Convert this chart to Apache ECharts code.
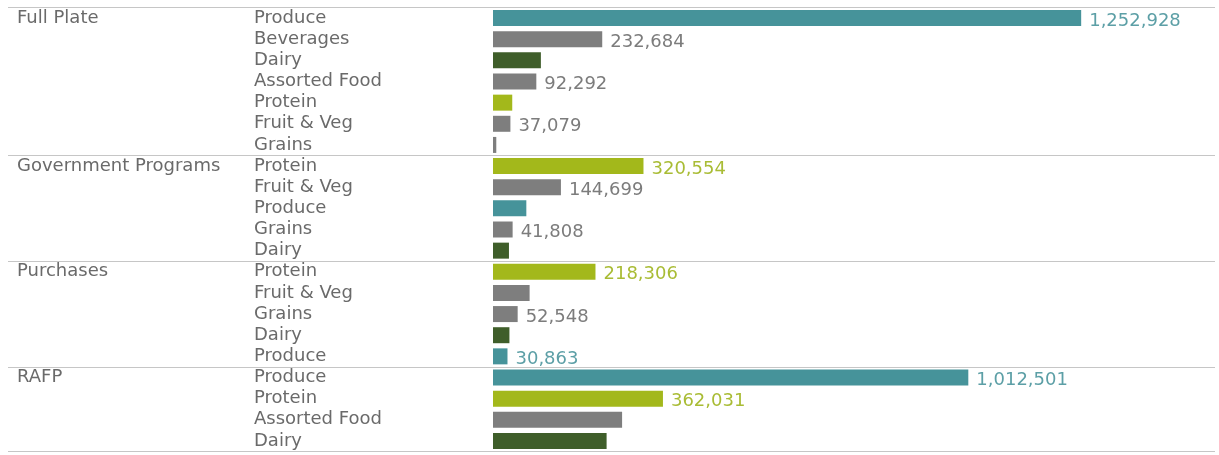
<!DOCTYPE html>
<html>
<head>
<meta charset="utf-8">
<title>Distribution by Source and Food Category</title>
<script src="https://cdn.jsdelivr.net/npm/echarts@6/dist/echarts.min.js"></script>
<style>
  html, body { margin: 0; padding: 0; background: #ffffff; }
  #chart { width: 1219px; height: 455px; }
</style>
</head>
<body>
<div id="chart"></div>
<script>
// Source groups, in display order
const groups = ['Full Plate', 'Government Programs', 'Purchases', 'RAFP'];

// Full Plate
const fullPlateCategories = ['Produce', 'Beverages', 'Dairy', 'Assorted Food', 'Protein', 'Fruit & Veg', 'Grains'];
const fullPlateValues = [1252928, 232684, 102000, 92292, 41000, 37079, 7000];
const fullPlateLabelled = [true, true, false, true, false, true, false];

// Government Programs
const govCategories = ['Protein', 'Fruit & Veg', 'Produce', 'Grains', 'Dairy'];
const govValues = [320554, 144699, 71000, 41808, 34000];
const govLabelled = [true, true, false, true, false];

// Purchases
const purchasesCategories = ['Protein', 'Fruit & Veg', 'Grains', 'Dairy', 'Produce'];
const purchasesValues = [218306, 78000, 52548, 35000, 30863];
const purchasesLabelled = [true, false, true, false, true];

// RAFP
const rafpCategories = ['Produce', 'Protein', 'Assorted Food', 'Dairy'];
const rafpValues = [1012501, 362031, 275000, 242000];
const rafpLabelled = [true, true, false, false];

// Colour per food category (bar fill, value label)
const categoryStyle = {
  'Produce':       { bar: '#46939a', text: '#5c9fa6' },
  'Protein':       { bar: '#a3b81b', text: '#a9bc35' },
  'Dairy':         { bar: '#3f5e2a', text: '#4d6a3a' },
  'Beverages':     { bar: '#7e7e7e', text: '#7c7c7c' },
  'Assorted Food': { bar: '#7e7e7e', text: '#7c7c7c' },
  'Fruit & Veg':   { bar: '#7e7e7e', text: '#7c7c7c' },
  'Grains':        { bar: '#7e7e7e', text: '#7c7c7c' }
};

const groupRows = [
  [fullPlateCategories, fullPlateValues, fullPlateLabelled],
  [govCategories, govValues, govLabelled],
  [purchasesCategories, purchasesValues, purchasesLabelled],
  [rafpCategories, rafpValues, rafpLabelled]
];

// Flatten into one row per (group, category)
const rowKeys = [];
const groupStartIndex = new Set();
const barData = [];
groups.forEach(function (g, gi) {
  const cats = groupRows[gi][0], vals = groupRows[gi][1], lab = groupRows[gi][2];
  groupStartIndex.add(rowKeys.length);
  cats.forEach(function (c, ci) {
    rowKeys.push(g + '|' + c);
    const st = categoryStyle[c];
    barData.push({
      value: vals[ci],
      itemStyle: { color: st.bar },
      label: { show: lab[ci], color: st.text }
    });
  });
});

const FONT = '"DejaVu Sans", Verdana, sans-serif';
const LINE = '#c6c6c6';
const isGroupStart = function (index) { return groupStartIndex.has(index); };

const chart = echarts.init(document.getElementById('chart'), null, { renderer: 'canvas' });

chart.setOption({
  animation: false,
  backgroundColor: '#ffffff',
  grid: {
    left: 493, right: 4, top: 7.5, bottom: 3.5,
    containLabel: false,
    outerBoundsMode: 'none'
  },
  xAxis: {
    type: 'value',
    min: 0,
    max: 1538000,
    show: false
  },
  yAxis: [
    {
      // food category labels, group separator lines
      type: 'category',
      position: 'left',
      inverse: true,
      data: rowKeys,
      axisLine: { show: false },
      axisTick: {
        show: true,
        length: 485,
        interval: isGroupStart,
        lineStyle: { color: LINE, width: 1 }
      },
      splitLine: {
        show: true,
        interval: isGroupStart,
        lineStyle: { color: LINE, width: 1 }
      },
      axisLabel: {
        interval: 0,
        align: 'left',
        margin: 239,
        color: '#6a6a6a',
        fontFamily: FONT,
        fontSize: 18,
        padding: [4, 0, 0, 0],
        formatter: function (v) { return v.split('|')[1]; }
      }
    },
    {
      // source group labels on the first row of each group
      type: 'category',
      position: 'left',
      offset: 0,
      inverse: true,
      data: rowKeys,
      axisLine: { show: false },
      axisTick: { show: false },
      splitLine: { show: false },
      axisLabel: {
        interval: 0,
        align: 'left',
        margin: 476,
        color: '#6a6a6a',
        fontFamily: FONT,
        fontSize: 18,
        padding: [4, 0, 0, 0],
        formatter: function (v, i) { return isGroupStart(i) ? v.split('|')[0] : ''; }
      }
    }
  ],
  series: [
    {
      type: 'bar',
      yAxisIndex: 0,
      barWidth: 16,
      data: barData,
      label: {
        position: 'right',
        distance: 8,
        offset: [0, 3],
        fontFamily: FONT,
        fontSize: 18,
        formatter: function (p) { return p.value.toLocaleString('en-US'); }
      }
    }
  ]
});
</script>
</body>
</html>
